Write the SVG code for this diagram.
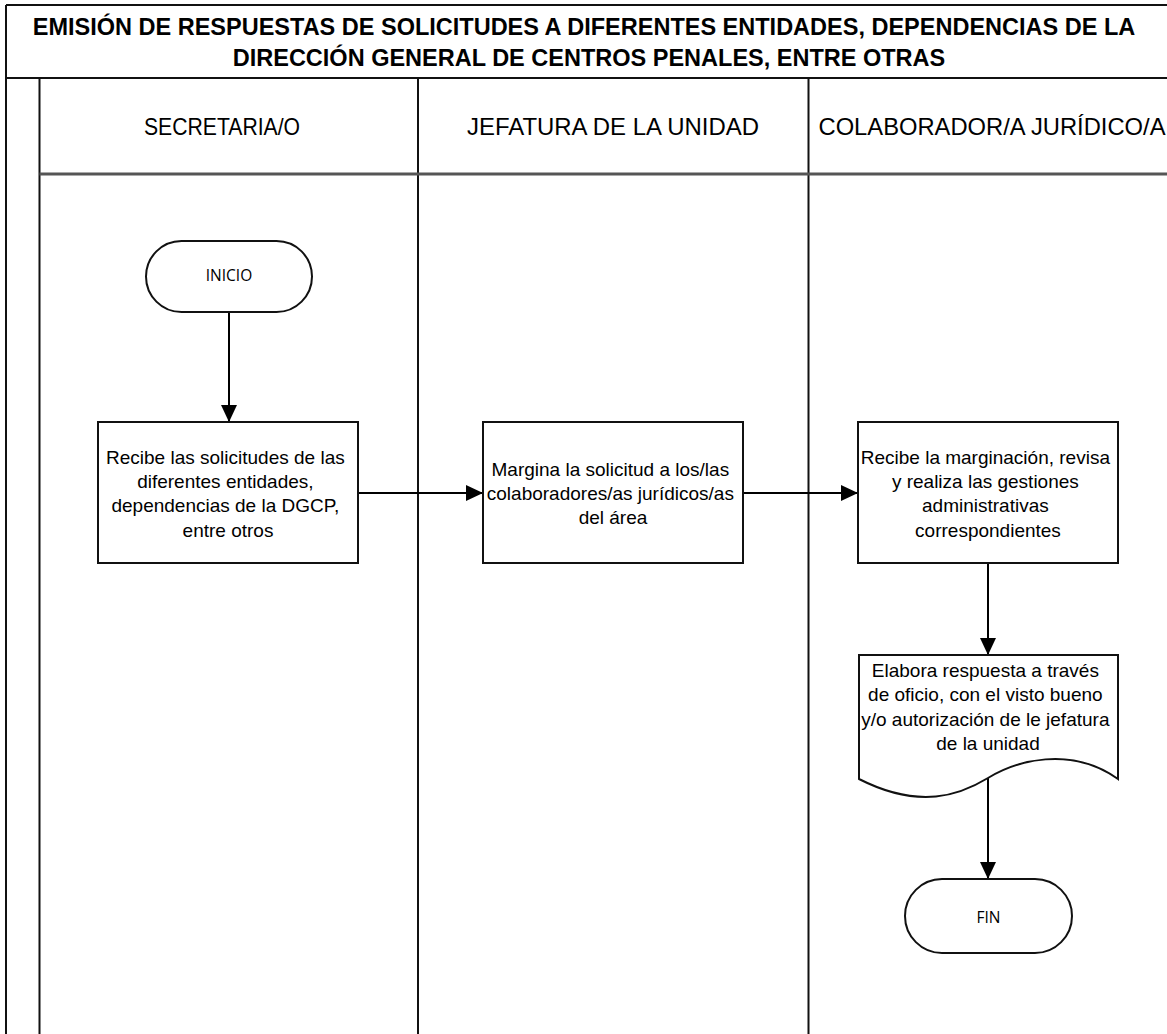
<svg xmlns="http://www.w3.org/2000/svg" width="1167" height="1034" viewBox="0 0 1167 1034">
  <style>
    .frame { stroke: #111; stroke-width: 2; fill: none; }
    .sep { stroke: #555; stroke-width: 3; fill: none; }
    .shape { fill: #fff; stroke: #111; stroke-width: 2; }
    .conn { stroke: #000; stroke-width: 2; fill: none; }
    .title { font-family: "Liberation Sans", Arial, sans-serif; font-weight: bold; font-size: 23.5px; fill: #000; text-anchor: middle; }
    .lane { font-family: "Liberation Sans", Arial, sans-serif; font-size: 24px; fill: #000; text-anchor: middle; }
    .body { font-family: "Liberation Sans", Arial, sans-serif; font-size: 19px; fill: #000; text-anchor: middle; }
    .term { font-family: "Open Sans", "Liberation Sans", sans-serif; font-size: 15.5px; fill: #000; text-anchor: middle; }
  </style>
  <defs>
    <marker id="arrow" markerUnits="userSpaceOnUse" markerWidth="18" markerHeight="16" refX="17" refY="8" orient="auto">
      <path d="M0,0 L17,8 L0,16 Z" fill="#000"/>
    </marker>
  </defs>

  <rect x="0" y="0" width="1167" height="1034" fill="#fff"/>

  <!-- pool frame, title band and swimlanes -->
  <g id="pool">
    <line class="frame" x1="6" y1="5" x2="1167" y2="5"/>
    <line class="frame" x1="6" y1="78" x2="1167" y2="78"/>
    <line class="frame" x1="6" y1="5" x2="6" y2="1034"/>
    <line class="frame" x1="39.5" y1="78" x2="39.5" y2="1034"/>
    <line class="frame" x1="418" y1="78" x2="418" y2="1034"/>
    <line class="frame" x1="808.5" y1="78" x2="808.5" y2="1034"/>
    <line class="sep" x1="39.5" y1="174" x2="1167" y2="174"/>
    <text class="title"><tspan x="584" y="35">EMISIÓN DE RESPUESTAS DE SOLICITUDES A DIFERENTES ENTIDADES, DEPENDENCIAS DE LA</tspan><tspan x="589" y="66">DIRECCIÓN GENERAL DE CENTROS PENALES, ENTRE OTRAS</tspan></text>
    <text class="lane" x="222" y="135" textLength="156" lengthAdjust="spacingAndGlyphs">SECRETARIA/O</text>
    <text class="lane" x="613" y="135" textLength="292" lengthAdjust="spacingAndGlyphs">JEFATURA DE LA UNIDAD</text>
    <text class="lane" x="992" y="135" textLength="347" lengthAdjust="spacingAndGlyphs">COLABORADOR/A JURÍDICO/A</text>
  </g>

  <!-- connectors -->
  <g id="connectors">
    <line class="conn" x1="229" y1="312" x2="229" y2="422" marker-end="url(#arrow)"/>
    <line class="conn" x1="358" y1="493" x2="483" y2="493" marker-end="url(#arrow)"/>
    <line class="conn" x1="743" y1="493" x2="858" y2="493" marker-end="url(#arrow)"/>
    <line class="conn" x1="988" y1="563" x2="988" y2="655" marker-end="url(#arrow)"/>
    <line class="conn" x1="988" y1="778" x2="988" y2="879" marker-end="url(#arrow)"/>
  </g>

  <!-- nodes -->
  <g id="inicio">
    <rect class="shape" x="146" y="241" width="166" height="71" rx="35.5" ry="35.5"/>
    <text class="term" x="229" y="281">INICIO</text>
  </g>

  <g id="recibe-solicitudes">
    <rect class="shape" x="98" y="422" width="260" height="141"/>
    <text class="body">
      <tspan x="228" y="464">Recibe las solicitudes de las</tspan>
      <tspan x="228" y="488">diferentes entidades,</tspan>
      <tspan x="228" y="512">dependencias de la DGCP,</tspan>
      <tspan x="228" y="537">entre otros</tspan>
    </text>
  </g>

  <g id="margina-solicitud">
    <rect class="shape" x="483" y="422" width="260" height="141"/>
    <text class="body">
      <tspan x="613" y="476">Margina la solicitud a los/las</tspan>
      <tspan x="613" y="500">colaboradores/as jurídicos/as</tspan>
      <tspan x="613" y="524">del área</tspan>
    </text>
  </g>

  <g id="recibe-marginacion">
    <rect class="shape" x="858" y="422" width="260" height="141"/>
    <text class="body">
      <tspan x="988" y="464">Recibe la marginación, revisa</tspan>
      <tspan x="988" y="488">y realiza las gestiones</tspan>
      <tspan x="988" y="512">administrativas</tspan>
      <tspan x="988" y="537">correspondientes</tspan>
    </text>
  </g>

  <g id="elabora-respuesta">
    <path class="shape" d="M859,655 H1118 V779 C1070,745 1016,761 988,778 C960,795 920,810 859,779 Z"/>
    <text class="body">
      <tspan x="988" y="677">Elabora respuesta  a través</tspan>
      <tspan x="988" y="701">de oficio, con el visto bueno</tspan>
      <tspan x="988" y="726">y/o autorización de le jefatura</tspan>
      <tspan x="988" y="750">de la unidad</tspan>
    </text>
  </g>

  <g id="fin">
    <rect class="shape" x="905" y="879" width="167" height="74" rx="37" ry="37"/>
    <text class="term" x="988.5" y="923">FIN</text>
  </g>
</svg>
